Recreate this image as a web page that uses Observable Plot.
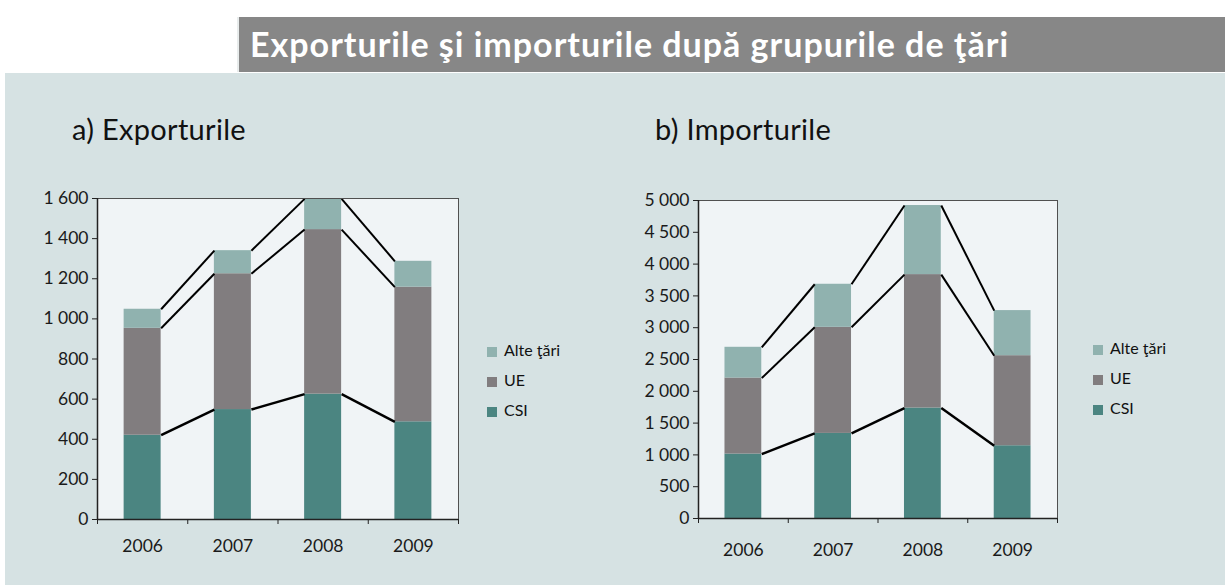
<!DOCTYPE html>
<html>
<head>
<meta charset="utf-8">
<script src="https://cdn.jsdelivr.net/npm/d3@7"></script>
<script src="https://cdn.jsdelivr.net/npm/@observablehq/plot@0.6"></script>
<style>
  html, body { margin: 0; padding: 0; background: #ffffff; }
  #root { position: relative; width: 1225px; height: 585px; overflow: hidden; font-family: Lato, "Open Sans", sans-serif; }
  #panel { position: absolute; left: 5px; top: 73px; width: 1220px; height: 512px; background: #d6e2e3; }
  #titlebar { position: absolute; left: 237px; top: 17px; width: 988px; height: 55px; background: #878787; border-left: 2px solid #e8ecec; box-sizing: border-box; }
  #title { position: absolute; left: 250px; top: 24px; color: #ffffff; font-weight: 700; font-size: 34px; line-height: 40px; white-space: nowrap; letter-spacing: 1px; }
  .sub { position: absolute; top: 112px; font-size: 29px; line-height: 34px; color: #111; white-space: nowrap; letter-spacing: 0.3px; }
  .chart { position: absolute; top: 180px; }
  .legend { position: absolute; font-size: 16px; color: #111; }
  .legend .item { position: absolute; left: 0; white-space: nowrap; height: 20px; line-height: 20px; }
  .legend .sw { display: inline-block; width: 10px; height: 10px; margin-right: 7px; vertical-align: -1px; }
</style>
</head>
<body>
<div id="root">
  <div id="panel"></div>
  <div id="titlebar"></div>
  <div id="title">Exporturile şi importurile după grupurile de ţări</div>
  <div class="sub" style="left:72px">a) Exporturile</div>
  <div class="sub" style="left:655px">b) Importurile</div>
  <div class="chart" id="chartA" style="left:0px"></div>
  <div class="chart" id="chartB" style="left:600px"></div>
  <div class="legend" id="legA" style="left:487px; top:340px"></div>
  <div class="legend" id="legB" style="left:1093px; top:338px"></div>
</div>
<script>
// ---- Data ----
const years = [2006, 2007, 2008, 2009];
const seriesNames = ["CSI", "UE", "Alte ţări"];
const legendOrder = ["Alte ţări", "UE", "CSI"];
const seriesColors = ["#4b8581", "#817d7f", "#90b2af"];

const exportCSI = [420, 548, 625, 487];
const exportUE = [533, 677, 820, 671];
const exportAlte = [95, 115, 153, 129];

const importCSI = [1013, 1338, 1737, 1144];
const importUE = [1196, 1668, 2098, 1416];
const importAlte = [483, 677, 1086, 709];

const exportTicks = [0, 200, 400, 600, 800, 1000, 1200, 1400, 1600];
const importTicks = [0, 500, 1000, 1500, 2000, 2500, 3000, 3500, 4000, 4500, 5000];

// ---- Helpers ----
const fmt = d => d3.format(",")(d).replace(/,/g, " ");
const hw = 0.205; // half bar width in year units

function buildRows(valueArrays) {
  const rows = [];
  years.forEach((yr, i) => {
    let base = 0;
    seriesNames.forEach((name, s) => {
      const v = valueArrays[s][i];
      rows.push({year: yr, name, y1: base, y2: base + v});
      base += v;
    });
  });
  return rows;
}

function buildLinks(rows) {
  const links = [];
  seriesNames.forEach(name => {
    const r = rows.filter(d => d.name === name);
    for (let i = 0; i < r.length - 1; i++) {
      links.push({x1: r[i].year + hw, y1: r[i].y2, x2: r[i + 1].year - hw, y2: r[i + 1].y2, name});
    }
  });
  return links;
}

function makeChart(valueArrays, ticks, opts) {
  const rows = buildRows(valueArrays);
  const links = buildLinks(rows);
  const bounds = [years[0] - 0.5, ...years.map(y => y + 0.5)];
  return Plot.plot({
    width: opts.width, height: opts.height,
    marginLeft: opts.ml, marginRight: opts.mr, marginTop: opts.mt, marginBottom: opts.mb,
    style: {fontFamily: "Lato, 'Open Sans', sans-serif", fontSize: "17px", color: "#1a1a1a", background: "transparent", overflow: "visible"},
    x: {domain: [bounds[0], bounds[bounds.length - 1]]},
    y: {domain: [0, ticks[ticks.length - 1]]},
    color: {domain: seriesNames, range: seriesColors},
    marks: [
      Plot.frame({fill: "#f0f4f6", stroke: null}),
      Plot.rect(rows, {x1: d => d.year - hw, x2: d => d.year + hw, y1: "y1", y2: "y2", fill: "name"}),
      Plot.link(links, {x1: "x1", y1: "y1", x2: "x2", y2: "y2", stroke: "#000", strokeWidth: d => d.name === "CSI" ? 2.5 : 2}),
      Plot.frame({stroke: "#505050", strokeWidth: 1}),
      Plot.ruleX([bounds[0]], {stroke: "#222", strokeWidth: 1.5}),
      Plot.ruleY([0], {stroke: "#222", strokeWidth: 1.5}),
      Plot.axisY({ticks, tickFormat: fmt, tickSize: 5, tickPadding: 4, fontSize: 17.5, stroke: "#222"}),
      Plot.axisX({ticks: bounds, tickFormat: () => "", tickSize: 5, stroke: "#222"}),
      Plot.axisX({ticks: years, tickFormat: d => String(d), tickSize: 0, tickPadding: opts.yearPad, fontSize: 17.5})
    ]
  });
}

function makeLegend(el) {
  legendOrder.forEach((name, i) => {
    const item = document.createElement("div");
    item.className = "item";
    item.style.top = (i * 30) + "px";
    const sw = document.createElement("span");
    sw.className = "sw";
    sw.style.background = seriesColors[seriesNames.indexOf(name)];
    item.appendChild(sw);
    item.appendChild(document.createTextNode(name));
    el.appendChild(item);
  });
}

document.getElementById("chartA").appendChild(
  makeChart([exportCSI, exportUE, exportAlte], exportTicks,
    {width: 470, height: 380, ml: 97, mr: 12, mt: 18, mb: 41, yearPad: 20})
);
document.getElementById("chartB").appendChild(
  makeChart([importCSI, importUE, importAlte], importTicks,
    {width: 470, height: 380, ml: 98, mr: 13, mt: 20, mb: 42, yearPad: 25})
);
makeLegend(document.getElementById("legA"));
makeLegend(document.getElementById("legB"));
</script>
</body>
</html>
